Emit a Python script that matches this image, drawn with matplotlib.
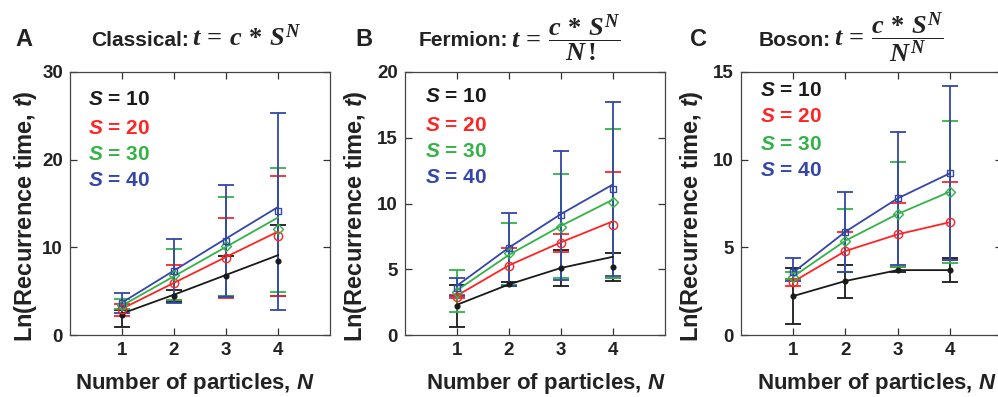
import matplotlib

matplotlib.use("Agg")

import matplotlib.pyplot as plt
import numpy as np

# ---- data (order of series: S = 10, 20, 30, 40) ----
N = [1, 2, 3, 4]
S_VALUES = [10, 20, 30, 40]

# A: classical
A_MEAN = [[2.3, 4.4, 6.7, 8.45], [3.0, 5.9, 8.75, 11.3],
          [3.4, 6.8, 10.1, 12.05], [3.7, 7.3, 10.7, 14.1]]
A_FIT = [[2.45, 4.6, 6.85, 9.1], [3.0, 5.95, 8.9, 11.8],
         [3.35, 6.7, 10.05, 13.4], [3.7, 7.35, 11.0, 14.6]]
A_LO = [[0.95, 3.8, 4.4, 4.45], [2.2, 4.0, 4.2, 4.4],
        [3.0, 4.0, 4.4, 4.9], [2.5, 3.7, 4.3, 2.8]]
A_HI = [[2.85, 5.1, 9.05, 12.55], [3.5, 8.0, 13.35, 18.1],
        [4.1, 9.8, 15.7, 19.0], [4.75, 11.0, 17.1, 25.3]]

# B: fermion
B_MEAN = [[2.2, 3.85, 5.1, 5.2], [2.9, 5.25, 7.0, 8.4],
          [3.3, 6.2, 8.2, 10.1], [3.6, 6.6, 9.1, 11.1]]
B_FIT = [[2.3, 3.85, 5.1, 5.95], [3.0, 5.3, 7.05, 8.65],
         [3.4, 6.1, 8.3, 10.3], [3.75, 6.65, 9.2, 11.45]]
B_LO = [[0.6, 3.7, 3.75, 4.1], [2.8, 3.8, 6.3, 4.35],
        [1.75, 3.8, 4.3, 4.3], [3.0, 3.7, 4.2, 4.45]]
B_HI = [[3.8, 4.0, 6.5, 6.25], [3.05, 6.65, 7.7, 12.4],
        [4.95, 8.55, 12.25, 15.7], [4.35, 9.3, 14.0, 17.7]]

# C: boson
C_MEAN = [[2.22, 3.08, 3.7, 3.7], [3.04, 4.79, 5.74, 6.43],
          [3.33, 5.38, 6.9, 8.17], [3.57, 5.89, 7.79, 9.22]]
C_FIT = C_MEAN
C_LO = [[0.63, 2.13, 3.6, 3.0], [2.8, 3.6, 3.9, 4.28],
        [3.2, 3.6, 3.9, 4.13], [3.1, 3.6, 4.0, 4.3]]
C_HI = [[3.8, 4.0, 3.85, 4.38], [3.2, 5.9, 7.55, 8.75],
        [3.6, 7.17, 9.85, 12.2], [4.41, 8.17, 11.6, 14.2]]

COLORS = ["#1a1a1a", "#ff2424", "#33b347", "#3446a8"]
MARKERS = [("o", 3.4, True), ("o", 6.0, False), ("D", 5.0, False), ("s", 5.0, False)]
TXT = "#222222"

plt.rcParams.update({
    "font.family": ["Liberation Sans", "DejaVu Sans"],
    "font.weight": "bold",
    "mathtext.fontset": "custom",
    "mathtext.rm": "Liberation Serif",
    "mathtext.it": "Liberation Serif:italic:bold",
    "mathtext.sf": "Liberation Sans:italic:bold",
    "mathtext.bf": "Liberation Serif:bold",
})

W, H = 998, 397
fig = plt.figure(figsize=(W / 100, H / 100), dpi=100)


def px_axes(left, right, top=72, bottom=335):
    return fig.add_axes([left / W, (H - bottom) / H, (right - left) / W, (bottom - top) / H])


panels = [
    dict(box=(70, 330), ymax=30, yticks=[0, 10, 20, 30], data=(A_MEAN, A_FIT, A_LO, A_HI),
         ylab=(-0.170, 0.452), xlab=0.48, leg=(0.069, [0.894, 0.787, 0.688, 0.586])),
    dict(box=(405, 665), ymax=20, yticks=[0, 5, 10, 15, 20], data=(B_MEAN, B_FIT, B_LO, B_HI),
         ylab=(-0.192, 0.452), xlab=0.54, leg=(0.077, [0.905, 0.798, 0.696, 0.597])),
    dict(box=(741, 1002), ymax=15, yticks=[0, 5, 10, 15], data=(C_MEAN, C_FIT, C_LO, C_HI),
         ylab=(-0.188, 0.452), xlab=0.52, leg=(0.073, [0.930, 0.829, 0.726, 0.627])),
]

for p in panels:
    ax = px_axes(*p["box"])
    mean, fit, lo, hi = p["data"]
    for i in range(4):
        m = np.array(mean[i])
        yerr = [m - np.array(lo[i]), np.array(hi[i]) - m]
        mk, ms, filled = MARKERS[i]
        ax.errorbar(N, m, yerr=yerr, fmt="none", ecolor=COLORS[i], elinewidth=1.3,
                    capsize=6, capthick=1.3, zorder=2 + i)
        ax.plot(N, fit[i], color=COLORS[i], lw=1.3, zorder=6 + i)
        ax.plot(N, m, linestyle="none", marker=mk, ms=ms,
                mfc=COLORS[i] if filled else "none", mec=COLORS[i], mew=1.0, zorder=10 + i)
    ax.set_xlim(0, 5)
    ax.set_ylim(0, p["ymax"])
    ax.set_xticks([1, 2, 3, 4])
    ax.set_yticks(p["yticks"])
    ax.tick_params(direction="in", top=True, right=True, length=5, width=0.9,
                   labelsize=13.5, pad=5, colors="#333333", labelcolor=TXT)
    for lab in ax.get_xticklabels() + ax.get_yticklabels():
        lab.set_fontweight("bold")
    for sp in ax.spines.values():
        sp.set_color("#444444")
        sp.set_linewidth(0.9)
    ax.set_ylabel(r"Ln(Recurrence time, $\mathsf{t}$)", fontsize=17, fontweight="bold",
                  color=TXT, va="center")
    ax.yaxis.set_label_coords(*p["ylab"])
    ax.set_xlabel(r"Number of particles, $\mathsf{N}$", fontsize=16, fontweight="bold",
                  color=TXT, va="center")
    ax.xaxis.set_label_coords(p["xlab"], -0.183)
    lx, lys = p["leg"]
    for i, s in enumerate(S_VALUES):
        ax.text(lx, lys[i], r"$\mathsf{S}$ = %d" % s, transform=ax.transAxes, ha="left",
                va="center", fontsize=15, fontweight="bold", color=COLORS[i], zorder=20)

# panel letters and titles
for letter, x in zip("ABC", [15, 355, 690]):
    fig.text(x / W, 1 - 40 / H, letter, fontsize=17, fontweight="bold", color=TXT,
             ha="left", va="center")

TITLE_WORDS = ["Classical:", "Fermion:", "Boson:"]
TITLE_MATH = [r"$t\,=\,c\,*\,S^{N}$",
              r"$t\,=\,\dfrac{c\,*\,S^{N}}{N\,!}$",
              r"$t\,=\,\dfrac{c\,*\,S^{N}}{N^{N}}$"]
TITLE_SPLIT = [189, 508, 831]
for word, math, xs in zip(TITLE_WORDS, TITLE_MATH, TITLE_SPLIT):
    fig.text(xs / W, 1 - 40 / H, word, fontsize=15, fontweight="bold", color=TXT,
             ha="right", va="center")
    fig.text((xs + 3) / W, 1 - 38 / H, math, fontsize=19, color=TXT,
             ha="left", va="center")

fig.savefig("out.png", dpi=100)
